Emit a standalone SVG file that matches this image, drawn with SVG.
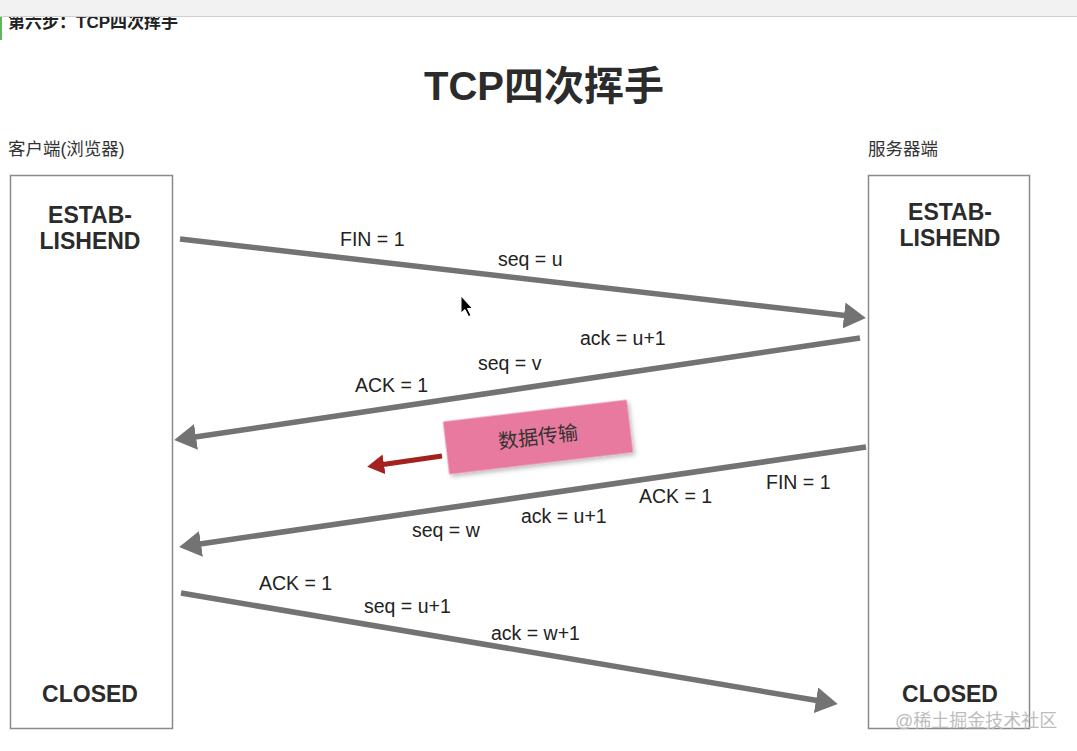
<svg xmlns="http://www.w3.org/2000/svg" width="1077" height="751" viewBox="0 0 1077 751">
<style>
text{font-family:"Liberation Sans","Noto Sans CJK SC",sans-serif;}
.lbl{font-size:19.5px;fill:#222;}
.state{font-size:23px;font-weight:bold;fill:#2b2b2b;text-anchor:middle;}
.side{font-size:17.5px;fill:#333;}
.box{fill:#fff;stroke:#8a8a8a;stroke-width:1.5;}
.conn{stroke:#737373;stroke-width:5.5;fill:none;marker-end:url(#ah);}
</style>
<defs>
<marker id="ah" markerUnits="userSpaceOnUse" orient="auto" refX="1" refY="13" markerWidth="24" markerHeight="26" viewBox="0 0 24 26">
<path d="M0,0 L22,13 L0,26 z" fill="#737373"/>
</marker>
<marker id="ahr" markerUnits="userSpaceOnUse" orient="auto" refX="1" refY="10" markerWidth="18" markerHeight="20" viewBox="0 0 18 20">
<path d="M0,0 L17,10 L0,20 z" fill="#a3221d"/>
</marker>
<filter id="sh" x="-10%" y="-20%" width="120%" height="150%">
<feDropShadow dx="2" dy="3" stdDeviation="2" flood-color="#000" flood-opacity="0.25"/>
</filter>
</defs>
<rect width="1077" height="751" fill="#fff"/>
<text x="8" y="28" style="font-size:17px;font-weight:bold;fill:#222">第六步：TCP四次挥手</text>
<rect x="0" y="0" width="1077" height="16" fill="#f2f2f2"/>
<line x1="0" y1="16.5" x2="1077" y2="16.5" stroke="#cfcfcf" stroke-width="1"/>
<rect x="0" y="17" width="2" height="23" fill="#5cb85c"/>

<text x="544" y="100" text-anchor="middle" style="font-size:40px;font-weight:bold;fill:#2b2b2b">TCP四次挥手</text>

<g id="client">
<text class="side" x="8" y="155">客户端(浏览器)</text>
<rect class="box" x="10.5" y="175.5" width="162" height="553"/>
<text class="state" x="90" y="223">ESTAB-</text>
<text class="state" x="90" y="249">LISHEND</text>
<text class="state" x="90" y="702">CLOSED</text>
</g>
<g id="server">
<text class="side" x="868" y="155">服务器端</text>
<rect class="box" x="868.5" y="175.5" width="161" height="553"/>
<text class="state" x="950" y="220">ESTAB-</text>
<text class="state" x="950" y="246">LISHEND</text>
<text class="state" x="950" y="702">CLOSED</text>
</g>

<g id="connectors">
<line class="conn" x1="180" y1="239" x2="845" y2="315.6"/>
<line class="conn" x1="860" y1="338" x2="195" y2="437"/>
<line class="conn" x1="866" y1="447" x2="200" y2="544"/>
<line class="conn" x1="181" y1="593" x2="817" y2="700.5"/>
<line x1="442" y1="456" x2="383" y2="464.5" stroke="#a3221d" stroke-width="5" marker-end="url(#ahr)"/>
</g>

<g id="labels">
<text class="lbl" x="340" y="246">FIN = 1</text>
<text class="lbl" x="498" y="266">seq = u</text>
<text class="lbl" x="580" y="345">ack = u+1</text>
<text class="lbl" x="478" y="370">seq = v</text>
<text class="lbl" x="355" y="392">ACK = 1</text>
<text class="lbl" x="766" y="489">FIN = 1</text>
<text class="lbl" x="639" y="503">ACK = 1</text>
<text class="lbl" x="521" y="523">ack = u+1</text>
<text class="lbl" x="412" y="537">seq = w</text>
<text class="lbl" x="259" y="590">ACK = 1</text>
<text class="lbl" x="364" y="613">seq = u+1</text>
<text class="lbl" x="491" y="640">ack = w+1</text>
</g>

<g id="data-transfer" transform="rotate(-6.8 538 437)">
<rect x="445.5" y="410.5" width="185" height="53" fill="#e97a9f" filter="url(#sh)"/>
<text x="538" y="444" text-anchor="middle" style="font-size:20px;fill:#333">数据传输</text>
</g>

<polygon points="461,296 461,313 465,309.5 468.5,316.5 471,315.5 467.5,308.5 472.5,308.5" fill="#000" stroke="#fff" stroke-width="1"/>

<text x="895" y="727" style="font-size:18px;fill:#bdbdbd">@稀土掘金技术社区</text>
</svg>
